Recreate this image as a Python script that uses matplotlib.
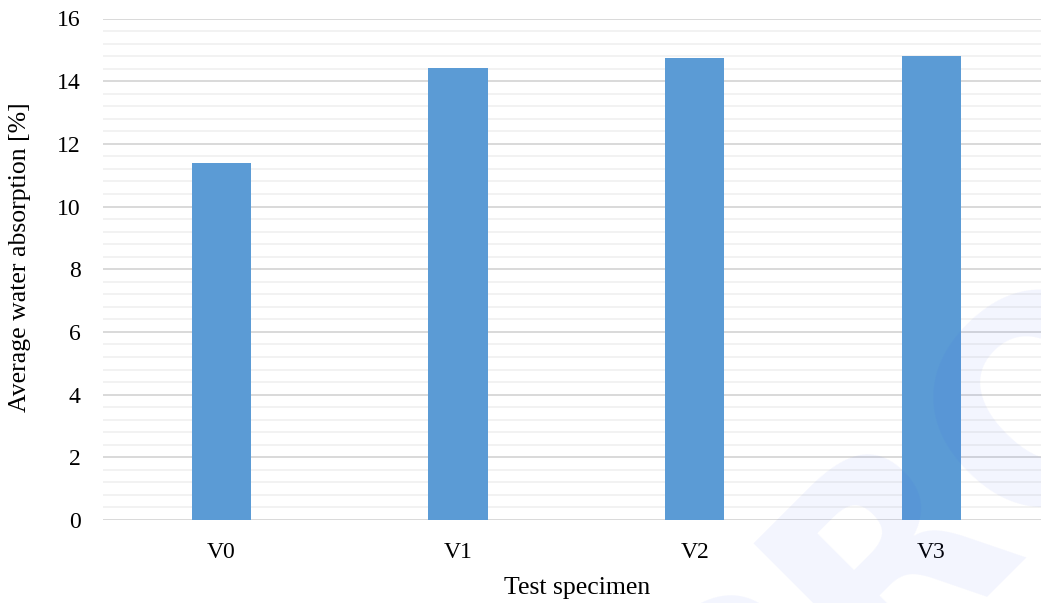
import matplotlib.pyplot as plt
from matplotlib.ticker import MultipleLocator

# average water absorption per test specimen
specimens = ["V0", "V1", "V2", "V3"]
absorption = [11.4, 14.42, 14.73, 14.79]

BAR_COLOR = "#5b9bd5"

plt.rcParams["font.family"] = ["Liberation Serif", "DejaVu Serif"]

fig = plt.figure(figsize=(10.41, 6.03), dpi=100)
ax = fig.add_axes([103 / 1041, 83 / 603, 938 / 1041, 501.5 / 603])

x = list(range(len(specimens)))
ax.bar(x, absorption, width=0.25, color=BAR_COLOR, zorder=3)

ax.set_xlim(-0.5, 3.463)
ax.set_ylim(0, 16)
ax.set_xticks(x)
ax.set_xticklabels(specimens)
ax.yaxis.set_major_locator(MultipleLocator(2))
ax.yaxis.set_minor_locator(MultipleLocator(0.4))

ax.grid(axis="y", which="major", color="#d9d9d9", linewidth=1.4, zorder=1)
ax.grid(axis="y", which="minor", color="#f2f2f2", linewidth=1.4, zorder=0)
for side in ("top", "right", "left", "bottom"):
    ax.spines[side].set_visible(False)

ax.tick_params(axis="both", which="both", length=0, labelsize=17, colors="#000000")
ax.tick_params(axis="y", pad=16)
ax.tick_params(axis="x", pad=16)

ax.set_xlabel("Test specimen", fontsize=18.5, va="center")
ax.set_ylabel("Average water absorption [%]", fontsize=18.5, va="center")
ax.xaxis.set_label_coords(0.505, -0.136)
ax.yaxis.set_label_coords(-0.088, 0.525)

# faint diagonal watermark in the lower right corner
fig.text(905 / 1041, 1 - 545 / 603, "PRO", rotation=45, ha="center", va="center",
         fontsize=200, fontweight="bold", family="DejaVu Sans",
         color="#3050f0", alpha=0.06, zorder=10)

fig.savefig("out.png", dpi=100)
